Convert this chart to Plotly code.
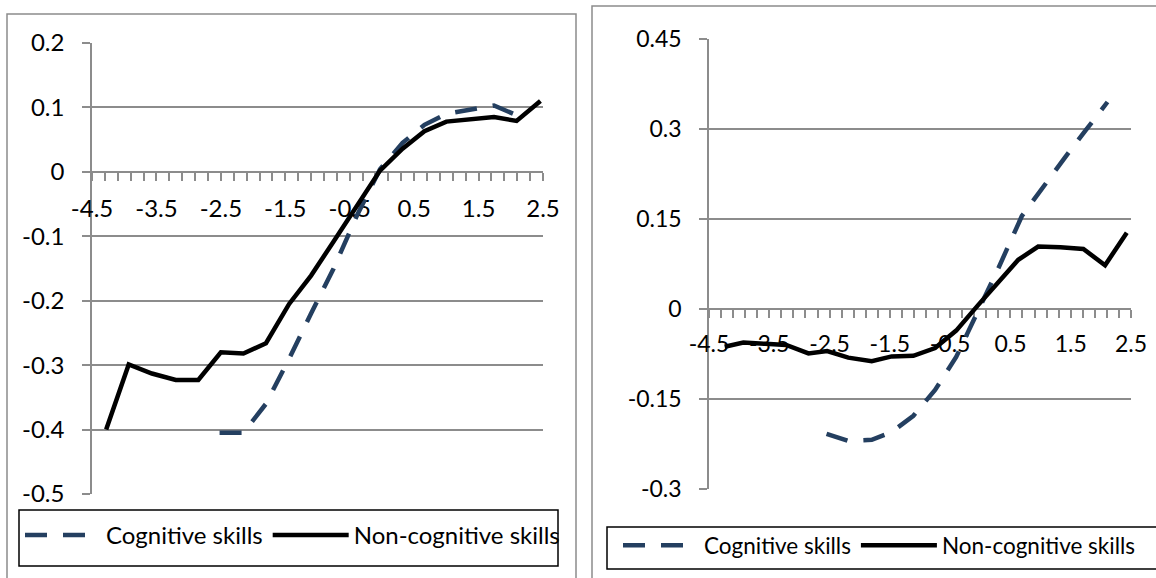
import plotly.graph_objects as go

W, H = 1156, 578

# ---- data (x = skill level, y = effect) ----
# left panel
left_noncog_x = [-4.28, -3.93, -3.57, -3.2, -2.85, -2.5, -2.15, -1.8, -1.44, -1.1,
                 -0.75, -0.38, -0.03, 0.32, 0.66, 1.0, 1.38, 1.74, 2.09, 2.46]
left_noncog_y = [-0.400, -0.299, -0.313, -0.323, -0.323, -0.280, -0.282, -0.266, -0.205, -0.161,
                 -0.108, -0.052, 0.002, 0.036, 0.063, 0.078, 0.082, 0.085, 0.079, 0.110]
left_cog_x = [-2.52, -2.15, -1.8, -1.44, -1.1, -0.75, -0.38, -0.03, 0.32, 0.66, 1.0, 1.38, 1.74, 2.09]
left_cog_y = [-0.405, -0.405, -0.360, -0.290, -0.220, -0.150, -0.066, 0.004, 0.045, 0.073, 0.090, 0.097, 0.103, 0.088]

# right panel
right_noncog_x = [-4.24, -3.93, -3.57, -3.22, -2.85, -2.54, -2.19, -1.8, -1.47, -1.11,
                  -0.75, -0.4, -0.04, 0.3, 0.63, 0.96, 1.33, 1.71, 2.07, 2.43]
right_noncog_y = [-0.063, -0.056, -0.058, -0.060, -0.074, -0.070, -0.081, -0.087, -0.079, -0.078,
                  -0.065, -0.036, 0.006, 0.045, 0.082, 0.104, 0.103, 0.100, 0.073, 0.127]
right_cog_x = [-2.55, -2.19, -1.8, -1.47, -1.11, -0.75, -0.4, -0.04, 0.3, 0.69, 1.05, 1.4, 1.75, 2.11]
right_cog_y = [-0.208, -0.220, -0.218, -0.205, -0.178, -0.135, -0.080, -0.005, 0.068, 0.155, 0.205, 0.252, 0.298, 0.345]

x_ticks = [-4.5, -3.5, -2.5, -1.5, -0.5, 0.5, 1.5, 2.5]
x_labels = ["-4.5", "-3.5", "-2.5", "-1.5", "-0.5", "0.5", "1.5", "2.5"]
left_y_ticks = [-0.5, -0.4, -0.3, -0.2, -0.1, 0, 0.1, 0.2]
left_y_labels = ["-0.5", "-0.4", "-0.3", "-0.2", "-0.1", "0", "0.1", "0.2"]
right_y_ticks = [-0.3, -0.15, 0, 0.15, 0.3, 0.45]
right_y_labels = ["-0.3", "-0.15", "0", "0.15", "0.3", "0.45"]

COG_COLOR = "#243F60"
GRID = "#8C8C8C"
FONT = "Lato"


def fx(px):
    return px / W


def fy(py):
    return 1 - py / H


fig = go.Figure()

fig.add_trace(go.Scatter(x=left_cog_x, y=left_cog_y, mode="lines", name="Cognitive skills",
                         line=dict(color=COG_COLOR, width=4.5, dash="22px,16px"),
                         xaxis="x", yaxis="y", legend="legend"))
fig.add_trace(go.Scatter(x=left_noncog_x, y=left_noncog_y, mode="lines", name="Non-cognitive skills",
                         line=dict(color="black", width=4.5),
                         xaxis="x", yaxis="y", legend="legend"))
fig.add_trace(go.Scatter(x=right_cog_x, y=right_cog_y, mode="lines", name="Cognitive skills",
                         line=dict(color=COG_COLOR, width=4.5, dash="22px,16px"),
                         xaxis="x2", yaxis="y2", legend="legend2"))
fig.add_trace(go.Scatter(x=right_noncog_x, y=right_noncog_y, mode="lines", name="Non-cognitive skills",
                         line=dict(color="black", width=4.5),
                         xaxis="x2", yaxis="y2", legend="legend2"))


def x_axis(domain, pos, fs):
    return dict(
        domain=domain, range=[-4.5, 2.5], anchor="free", position=pos,
        showline=True, linecolor=GRID, linewidth=1.5,
        showgrid=False, zeroline=False, automargin=False,
        tickmode="array", tickvals=x_ticks, ticktext=x_labels,
        ticks="outside", ticklen=8, tickcolor=GRID, tickwidth=1.5,
        minor=dict(tickmode="linear", tick0=-4.5, dtick=0.2, ticks="outside",
                   ticklen=8, tickcolor=GRID, tickwidth=1.5),
        ticklabelstandoff=7, layer="below traces",
        tickfont=dict(family=FONT, size=fs, color="black"),
    )


def y_axis(domain, anchor, rng, vals, labels, fs):
    return dict(
        domain=domain, range=rng, anchor=anchor,
        showline=True, linecolor=GRID, linewidth=1.5,
        showgrid=True, gridcolor=GRID, gridwidth=1.5, zeroline=False, automargin=False,
        tickmode="array", tickvals=vals, ticktext=labels,
        ticks="outside", ticklen=8, tickcolor=GRID, tickwidth=1.5,
        ticklabelstandoff=13, layer="below traces",
        tickfont=dict(family=FONT, size=fs, color="black"),
    )


left_dom_x = [fx(92), fx(543)]
left_dom_y = [fy(494), fy(43)]
right_dom_x = [fx(709), fx(1131)]
right_dom_y = [fy(489), fy(39)]

legend_style = dict(orientation="h", bgcolor="rgba(0,0,0,0)", borderwidth=0,
                    itemwidth=76, xanchor="left", yanchor="top")

fig.update_layout(
    width=W, height=H,
    margin=dict(l=0, r=0, t=0, b=0, autoexpand=False),
    paper_bgcolor="white", plot_bgcolor="white",
    showlegend=True,
    xaxis=x_axis(left_dom_x, fy(172), 24),
    yaxis=y_axis(left_dom_y, "x", [-0.5, 0.2], left_y_ticks, left_y_labels, 24),
    xaxis2=x_axis(right_dom_x, fy(309), 23),
    yaxis2=y_axis(right_dom_y, "x2", [-0.3, 0.45], right_y_ticks, right_y_labels, 23),
    legend=dict(x=fx(20), y=fy(513), font=dict(family=FONT, size=24, color="black"), **legend_style),
    legend2=dict(x=fx(618), y=fy(524), font=dict(family=FONT, size=22.5, color="black"), **legend_style),
    shapes=[
        # chart-area frames
        dict(type="rect", xref="paper", yref="paper", x0=fx(7), x1=fx(576), y0=-0.05, y1=fy(14),
             line=dict(color=GRID, width=1.5), layer="below"),
        dict(type="rect", xref="paper", yref="paper", x0=fx(592), x1=1.05, y0=-0.05, y1=fy(6),
             line=dict(color=GRID, width=1.5), layer="below"),
        # legend frames
        dict(type="rect", xref="paper", yref="paper", x0=fx(19), x1=fx(558), y0=fy(566), y1=fy(510),
             line=dict(color="black", width=1.5), layer="below"),
        dict(type="rect", xref="paper", yref="paper", x0=fx(607), x1=fx(1160), y0=fy(569), y1=fy(527),
             line=dict(color="black", width=1.5), layer="below"),
    ],
)

# drop the page's default 8px body margin so the figure sits at the window origin
fig.write_html("out.html", config={"displayModeBar": False},
               post_script="document.body.style.margin='0px';")
